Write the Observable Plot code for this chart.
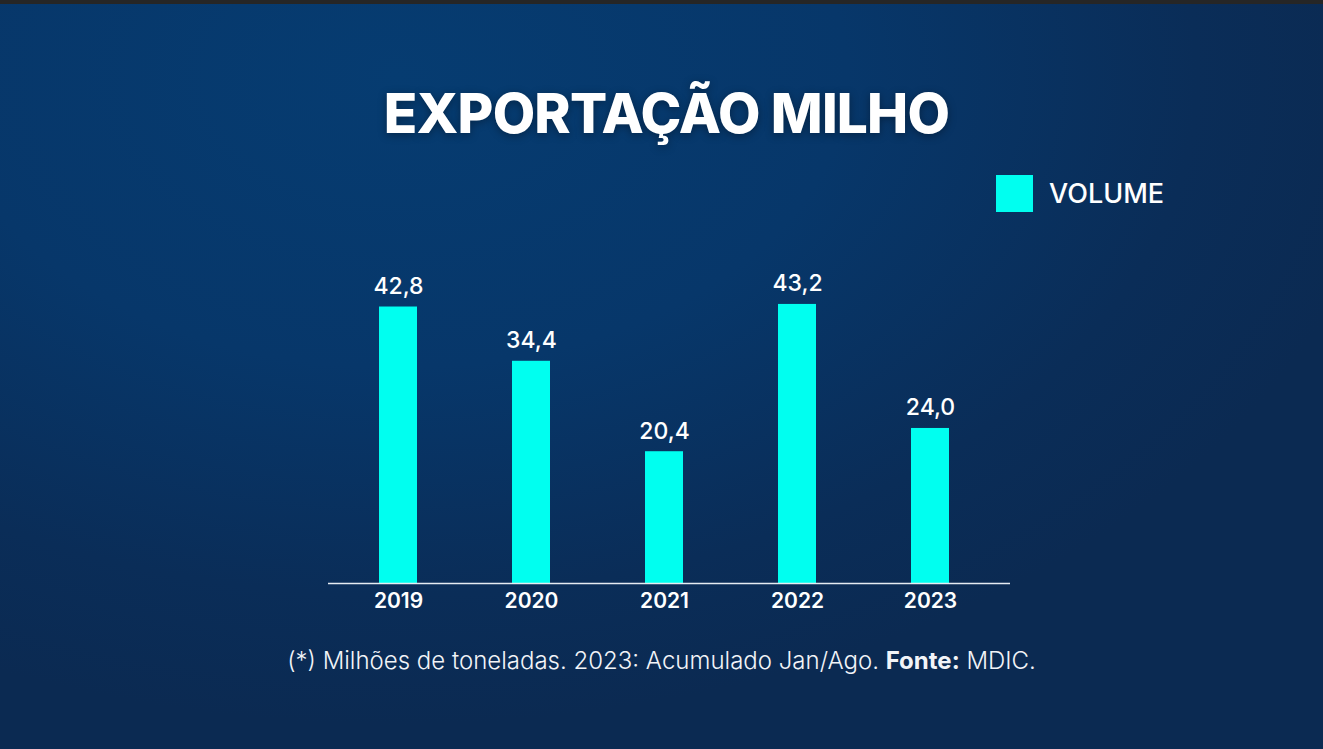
<!DOCTYPE html>
<html>
<head>
<meta charset="utf-8">
<script src="https://cdn.jsdelivr.net/npm/d3@7"></script>
<script src="https://cdn.jsdelivr.net/npm/@observablehq/plot@0.6"></script>
<style>
  html, body { margin: 0; padding: 0; background: #0a2c55; }
  #page {
    position: relative; width: 1323px; height: 749px; overflow: hidden;
    background: radial-gradient(ellipse 1000px 650px at 30% 10%, #063c71 0%, #07376a 45%, #0a2d58 80%, #0b2a52 100%);
    font-family: Inter, "Noto Sans", sans-serif; color: #fff;
  }
  #topbar { position: absolute; left: 0; top: 0; width: 1323px; height: 4px; background: #262626; }
  #title {
    position: absolute; left: 5px; width: 1323px; top: 80px; text-align: center;
    font-size: 55px; font-weight: 800; letter-spacing: -0.8px; line-height: 66px;
    text-shadow: 0 2px 8px rgba(0,0,0,0.35);
  }
  #legend { position: absolute; left: 996px; top: 175px; display: flex; align-items: center; }
  #legend .sw { width: 37px; height: 37px; background: #00fff0; }
  #legend .lb { margin-left: 16px; font-size: 27px; font-weight: 500; }
  #chart { position: absolute; left: 0; top: 0; }
  #caption {
    position: absolute; left: 0; width: 1323px; top: 646px; text-align: center;
    font-size: 24px; font-weight: 300; color: #f2f4f8;
  }
  #caption b { font-weight: 700; }
</style>
</head>
<body>
<div id="page">
  <div id="topbar"></div>
  <div id="title">EXPORTAÇÃO MILHO</div>
  <div id="legend"><div class="sw"></div><div class="lb">VOLUME</div></div>
  <div id="chart"></div>
  <div id="caption">(*) Milhões de toneladas. 2023: Acumulado Jan/Ago. <b>Fonte:</b> MDIC.</div>
</div>
<script>
const years = ["2019", "2020", "2021", "2022", "2023"];
const volumes = [42.8, 34.4, 20.4, 43.2, 24.0];
const data = years.map((y, i) => ({year: y, volume: volumes[i]}));
const fmt = v => v.toFixed(1).replace(".", ",");

const chart = Plot.plot({
  width: 1323,
  height: 749,
  marginLeft: 328,
  marginRight: 313,
  marginTop: 260,
  marginBottom: 166,
  style: {background: "transparent", fontFamily: "Inter, 'Noto Sans', sans-serif", color: "#fff", overflow: "visible"},
  x: {domain: years, range: [331.5, 996.5], paddingInner: 0.714, paddingOuter: 0.357, label: null},
  y: {domain: [0, 50], axis: null},
  marks: [
    Plot.barY(data, {x: "year", y: "volume", fill: "#00fff0"}),
    Plot.ruleY([0], {stroke: "#e6ecf2", strokeWidth: 1.6}),
    Plot.text(data, {x: "year", y: "volume", text: d => fmt(d.volume), lineAnchor: "bottom", dy: -13, fill: "#fff", fontSize: 23, fontWeight: 500}),
    Plot.axisX({tickSize: 0, tickPadding: 10, fontSize: 21, fontWeight: 600, fill: "#fff", label: null})
  ]
});
document.getElementById("chart").appendChild(chart);
</script>
</body>
</html>
